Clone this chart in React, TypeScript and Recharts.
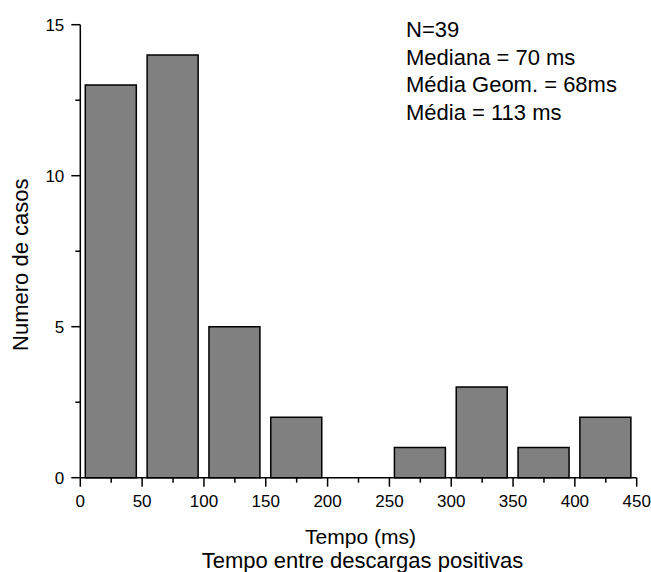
import { BarChart, Bar, XAxis, YAxis, Label } from "recharts";

const binStarts = [0, 50, 100, 150, 200, 250, 300, 350, 400];
const binWidth = 50;
const counts = [13, 14, 5, 2, 0, 1, 3, 1, 2];

const xMajorTicks = [0, 50, 100, 150, 200, 250, 300, 350, 400, 450];
const xMinorTicks = [25, 75, 125, 175, 225, 275, 325, 375, 425];
const yMajorTicks = [0, 5, 10, 15];
const yMinorTicks = [2.5, 7.5, 12.5];

const statsLines = ["N=39", "Mediana = 70 ms", "Média Geom. = 68ms", "Média = 113 ms"];

const data = binStarts.map((start, i) => ({
  center: start + binWidth / 2,
  count: counts[i],
}));

const FONT = '"Liberation Sans", Arial, sans-serif';

const XTick = ({ x, y, payload }: any) => {
  const major = xMajorTicks.includes(payload.value);
  return (
    <g>
      <line x1={x} x2={x} y1={y} y2={y + (major ? 9 : 5)} stroke="#000" strokeWidth={1.5} />
      {major && (
        <text x={x} y={y + 29} textAnchor="middle" fontSize={17} fontFamily={FONT} fill="#000">
          {payload.value}
        </text>
      )}
    </g>
  );
};

const YTick = ({ x, y, payload }: any) => {
  const major = yMajorTicks.includes(payload.value);
  return (
    <g>
      <line x1={x - (major ? 9 : 5)} x2={x} y1={y} y2={y} stroke="#000" strokeWidth={1.5} />
      {major && (
        <text x={x - 16} y={y + 6} textAnchor="end" fontSize={17} fontFamily={FONT} fill="#000">
          {payload.value}
        </text>
      )}
    </g>
  );
};

export default function App() {
  return (
    <div style={{ position: "absolute", left: 0, top: 0, width: 651, height: 572, background: "#fff" }}>
      <BarChart
        width={651}
        height={572}
        data={data}
        margin={{ top: 24.7, right: 14.3, bottom: 0, left: 0 }}
      >
        <XAxis
          type="number"
          dataKey="center"
          domain={[0, 450]}
          ticks={[...xMajorTicks, ...xMinorTicks].sort((a, b) => a - b)}
          interval={0}
          height={94.3}
          tickSize={0}
          tickMargin={0}
          tickLine={false}
          tick={<XTick />}
          axisLine={{ stroke: "#000", strokeWidth: 1.5 }}
        >
          <Label
            content={({ viewBox }: any) => (
              <g fontFamily={FONT} fill="#000" textAnchor="middle">
                <text x={viewBox.x + viewBox.width / 2 + 2} y={viewBox.y + 66} fontSize={21}>
                  Tempo (ms)
                </text>
                <text x={viewBox.x + viewBox.width / 2 + 4} y={viewBox.y + 89.8} fontSize={22}>
                  Tempo entre descargas positivas
                </text>
              </g>
            )}
          />
        </XAxis>
        <YAxis
          type="number"
          domain={[0, 15]}
          ticks={[...yMajorTicks, ...yMinorTicks].sort((a, b) => a - b)}
          interval={0}
          width={80.3}
          tickSize={0}
          tickMargin={0}
          tickLine={false}
          tick={<YTick />}
          axisLine={{ stroke: "#000", strokeWidth: 1.5 }}
        >
          <Label
            content={({ viewBox }: any) => {
              const cx = viewBox.x + 28;
              const cy = viewBox.y + viewBox.height / 2 + 13.5;
              return (
                <text
                  x={cx}
                  y={cy}
                  transform={`rotate(-90, ${cx}, ${cy})`}
                  textAnchor="middle"
                  fontFamily={FONT}
                  fontSize={22}
                  fill="#000"
                >
                  Numero de casos
                </text>
              );
            }}
          />
        </YAxis>
        <Bar
          dataKey="count"
          fill="#808080"
          stroke="#000"
          strokeWidth={1.5}
          barSize={51}
          isAnimationActive={false}
        />
      </BarChart>
      <div
        style={{
          position: "absolute",
          left: 406,
          top: 15.8,
          fontFamily: FONT,
          fontSize: 22,
          lineHeight: "27.7px",
          color: "#000",
          whiteSpace: "nowrap",
        }}
      >
        {statsLines.map((line) => (
          <div key={line}>{line}</div>
        ))}
      </div>
    </div>
  );
}
